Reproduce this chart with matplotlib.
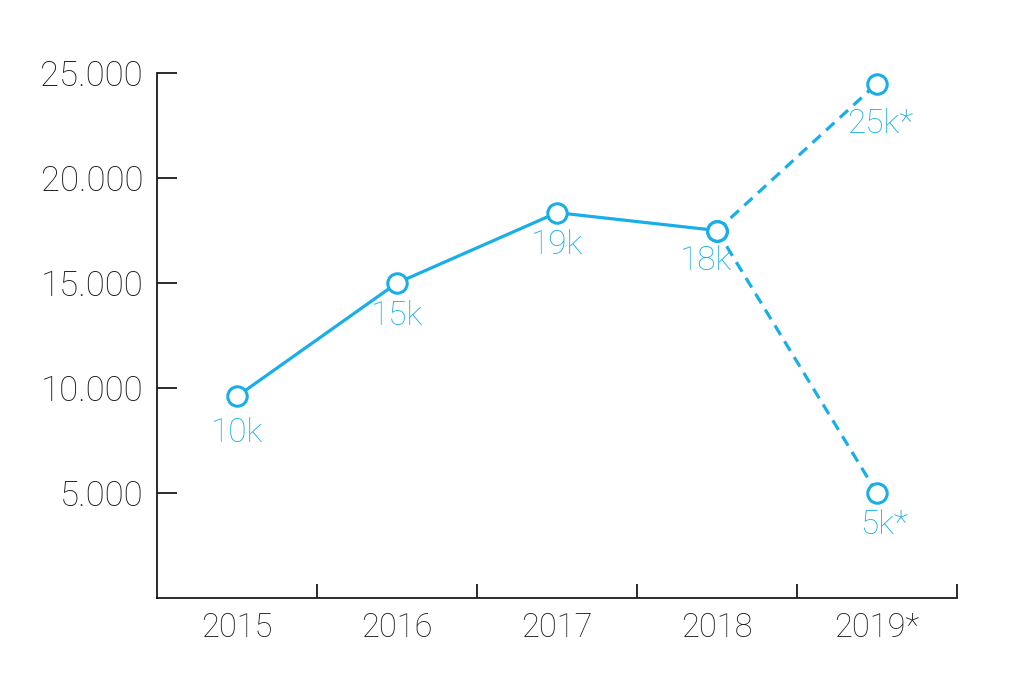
import matplotlib
matplotlib.use("Agg")
import matplotlib.pyplot as plt

categories = ["2015", "2016", "2017", "2018", "2019*"]
actual_values = [9600, 15000, 18350, 17500]
high_forecast = [17500, 24500]
low_forecast = [17500, 5000]
actual_labels = ["10k", "15k", "19k", "18k"]
forecast_labels = ["25k*", "5k*"]
y_ticks = [5000, 10000, 15000, 20000, 25000]
y_tick_labels = ["5.000", "10.000", "15.000", "20.000", "25.000"]

BLUE = "#19AEE8"
DARK = "#1a1a1a"

plt.rcParams['font.family'] = ['Roboto', 'DejaVu Sans']
plt.rcParams['font.weight'] = 'light'

fig = plt.figure(figsize=(10.24, 6.84), dpi=100)
ax = fig.add_axes([157/1024, 1-598/684, 800/1024, 525/684])

mk = dict(marker='o', markersize=14, markerfacecolor='white',
          markeredgecolor=BLUE, markeredgewidth=2.2)

x_act = list(range(len(actual_values)))
x_fc = [3, 4]
ax.plot(x_fc, high_forecast, color=BLUE, lw=2.3, ls=(0, (3.5, 2.3)), zorder=2, **mk)
ax.plot(x_fc, low_forecast, color=BLUE, lw=2.3, ls=(0, (3.5, 2.3)), zorder=2, **mk)
ax.plot(x_act, actual_values, color=BLUE, lw=2.3, zorder=3, **mk)

offsets = [(0, -26), (0, -24), (0, -23), (-8, -22)]
for x, v, t, o in zip(x_act, actual_values, actual_labels, offsets):
    ax.annotate(t, (x, v), xytext=o, textcoords='offset points',
                ha='center', va='center', color=BLUE, fontsize=24)
fc_offsets = [(2, -29), (5, -23)]
for v, t, o in zip([high_forecast[1], low_forecast[1]], forecast_labels, fc_offsets):
    ax.annotate(t, (4, v), xytext=o, textcoords='offset points',
                ha='center', va='center', color=BLUE, fontsize=24)

ax.set_xlim(-0.5, 4.5)
ax.set_ylim(0, 25000)

for s in ['top', 'right']:
    ax.spines[s].set_visible(False)
for s in ['left', 'bottom']:
    ax.spines[s].set_color(DARK)
    ax.spines[s].set_linewidth(1.3)

ax.set_yticks(y_ticks)
ax.set_yticklabels(y_tick_labels)
ax.set_xticks([0.5, 1.5, 2.5, 3.5, 4.5])
ax.set_xticklabels([])
ax.set_xticks(range(len(categories)), minor=True)
ax.set_xticklabels(categories, minor=True)

ax.tick_params(axis='y', direction='in', length=14.5, width=1.3, color=DARK,
               labelsize=25, labelcolor=DARK, pad=10)
ax.tick_params(axis='x', which='major', direction='in', length=10, width=1.3, color=DARK)
ax.tick_params(axis='x', which='minor', length=0, labelsize=23.5, labelcolor=DARK, pad=10)

fig.savefig("out.png", dpi=100)
